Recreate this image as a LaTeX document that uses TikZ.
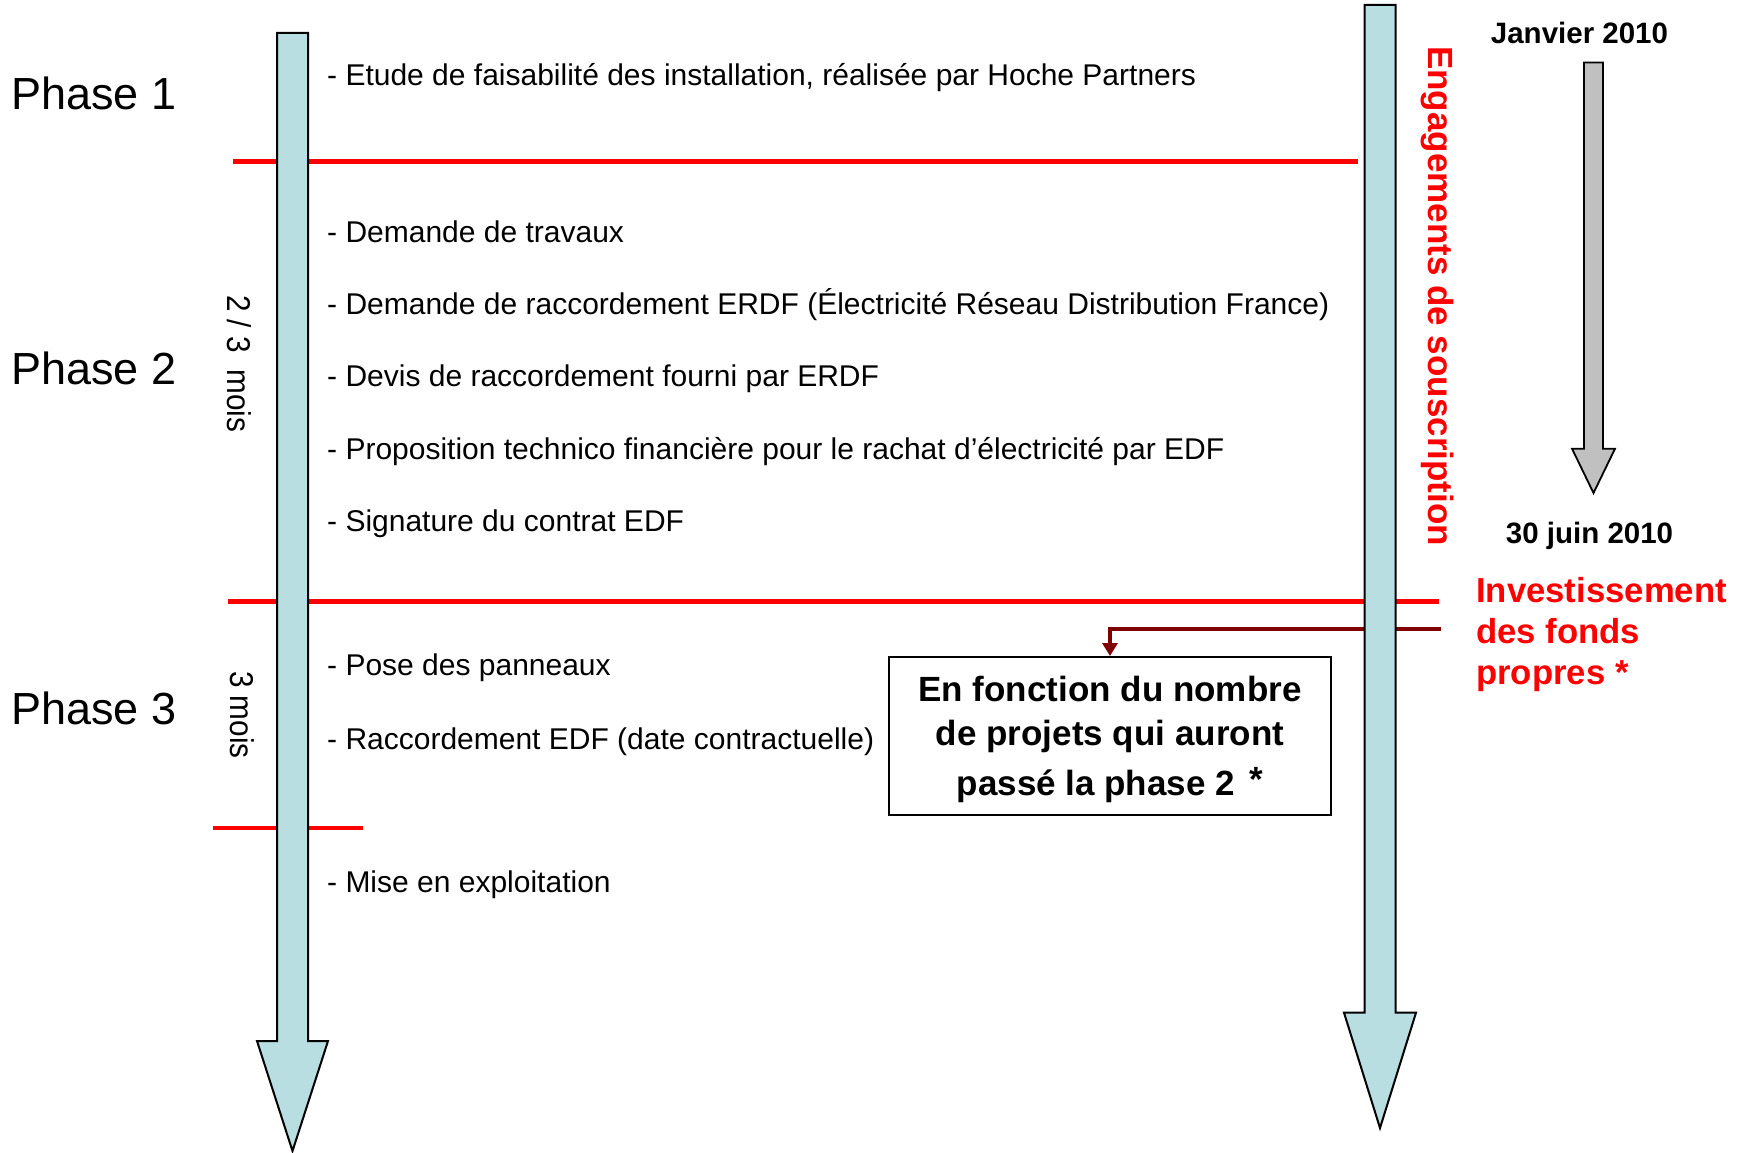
\documentclass[tikz,border=0pt]{standalone}
\usepackage{fontspec}
\setmainfont{Liberation Sans}
\usetikzlibrary{arrows.meta}
\definecolor{arrowblue}{RGB}{185,222,226}
\definecolor{arrowgray}{RGB}{192,192,192}
\definecolor{darkred}{RGB}{128,0,0}
\begin{document}
\begin{tikzpicture}[x=1pt,y=-1pt,
  body/.style={anchor=base west, inner sep=0pt, font=\fontsize{30}{36}\selectfont},
  phase/.style={anchor=base west, inner sep=0pt, font=\fontsize{45}{52}\selectfont},
  datelbl/.style={anchor=base, inner sep=0pt, font=\bfseries\fontsize{29.5}{35}\selectfont},
  invlbl/.style={anchor=base west, inner sep=0pt, text=red, font=\bfseries\fontsize{34.7}{40.5}\selectfont},
  durlbl/.style={anchor=base west, inner sep=0pt, rotate=-90, font=\fontsize{33}{40}\selectfont},
  redline/.style={draw=red, line width=4.5pt},
  bigarrow/.style={draw=black, line width=2pt, line join=miter, fill=arrowblue},
  grayarrow/.style={draw=black, line width=1.8pt, line join=miter, fill=arrowgray},
  infobox/.style={draw=black, line width=2pt, fill=white, minimum width=442pt, minimum height=158pt, inner sep=0pt, align=center, font=\bfseries\fontsize{35}{44.3}\selectfont},
  link/.style={draw=darkred, line width=4pt, -{Triangle[width=15pt,length=13pt]}}
]
\useasboundingbox (0,0) rectangle (1743,1153);

% phase labels
\node[phase] (p1) at (11,109.3) {Phase 1};
\node[phase] (p2) at (11,384.8) {Phase 2};
\node[phase] (p3) at (11,724) {Phase 3};

% items
\node[body] (t1) at (327,85.6) {- Etude de faisabilité des installation, réalisée par Hoche Partners};
\node[body] (t2) at (327,242.3) {- Demande de travaux};
\node[body] (t3) at (327,314.6) {- Demande de raccordement ERDF (Électricité Réseau Distribution France)};
\node[body] (t4) at (327,386.8) {- Devis de raccordement fourni par ERDF};
\node[body] (t5) at (327,459) {- Proposition technico financière pour le rachat d’électricité par EDF};
\node[body] (t6) at (327,531.3) {- Signature du contrat EDF};
\node[body] (t7) at (327,675.8) {- Pose des panneaux};
\node[body] (t8) at (327,749.2) {- Raccordement EDF (date contractuelle)};
\node[body] (t9) at (327,892.6) {- Mise en exploitation};

% durations
\node[durlbl] (d2) at (227,295) {\scalebox{0.9}[1]{2 / 3\ \ mois}};
\node[durlbl] (d3) at (230,671) {\scalebox{0.9}[1]{3 mois}};

% box
\node[infobox] (box) at (1110,736) {\rule{0pt}{32pt}En fonction du nombre\\de projets qui auront\\[5.4pt]passé la phase 2\hspace{5pt} \raisebox{4pt}{*}};

% dates
\node[datelbl] (jan) at (1579.5,43.8) {Janvier 2010};
\node[datelbl] (jun) at (1589.5,543.8) {30 juin 2010};

% investissement
\node[invlbl] (inv1) at (1476,602) {Investissement};
\node[invlbl] (inv2) at (1476,643) {des fonds};
\node[invlbl] (inv3) at (1476,684) {propres *};

% red separators
\draw[redline] (233,161.7) -- (1358,161.7);
\draw[redline] (228,601.7) -- (1439,601.7);
\draw[redline] (213,828) -- (363,828);

% connector
\coordinate (invstart) at (1441,629.3);
\draw[link] (invstart) -| (box.north);

% big arrows
\draw[bigarrow] (277,33) -- (308,33) -- (308,1041) -- (328,1041) -- (292.5,1151) -- (257,1041) -- (277,1041) -- cycle;
\draw[bigarrow] (1364.5,5) -- (1395.5,5) -- (1395.5,1012.7) -- (1416,1012.7) -- (1380,1128) -- (1344,1012.7) -- (1364.5,1012.7) -- cycle;
\draw[grayarrow] (1584,62.5) -- (1603,62.5) -- (1603,448.7) -- (1615,448.7) -- (1593.5,493) -- (1572,448.7) -- (1584,448.7) -- cycle;

% vertical red label
\node[anchor=base west, inner sep=0pt, rotate=-90, text=red, font=\bfseries\fontsize{35}{42}\selectfont] (eng) at (1428.5,46) {Engagements de souscription};
\end{tikzpicture}
\end{document}
